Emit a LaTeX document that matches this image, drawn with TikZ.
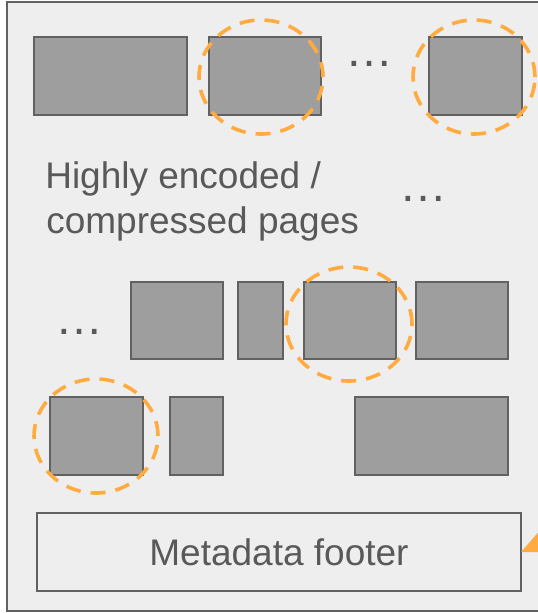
\documentclass[tikz,border=0pt]{standalone}
\usepackage{fontspec}
\setmainfont{Liberation Sans}
\usetikzlibrary{shapes.geometric,arrows.meta}

\definecolor{panelbg}{HTML}{EEEEEE}
\definecolor{pagefill}{HTML}{9E9E9E}
\definecolor{edgegray}{HTML}{616161}
\definecolor{textgray}{HTML}{595959}
\definecolor{accent}{HTML}{FFAB40}

\tikzset{
  pagebox/.style={draw=edgegray, fill=pagefill, line width=2pt,
    inner sep=0pt, outer sep=0pt},
  ring/.style={draw=accent, ellipse, line width=3.6pt, inner sep=0pt, outer sep=0pt,
    dash pattern=on 15pt off 10pt},
  footerbox/.style={draw=edgegray, fill=panelbg, line width=2pt,
    inner sep=0pt, outer sep=0pt, text=textgray,
    font=\fontsize{37}{44}\selectfont},
  label/.style={inner sep=0pt, outer sep=0pt, text=textgray,
    font=\fontsize{37}{45}\selectfont},
  dots/.style={inner sep=0pt, outer sep=0pt, text=textgray,
    font=\fontsize{48}{48}\selectfont},
  pointer/.style={draw=accent, line width=3pt,
    -{Triangle[length=28pt,width=25pt]}, color=accent}
}

\begin{document}
\begin{tikzpicture}[x=1pt,y=-1pt]
  \useasboundingbox (0,0) rectangle (538,613);
  \clip (0,0) rectangle (538,613);
  \fill[white] (0,0) rectangle (538,613);

  % file panel (its right side runs past the edge)
  \draw[draw=edgegray, fill=panelbg, line width=2pt] (7,2) rectangle (570,611);

  % first row of pages
  \node[pagebox, minimum width=153pt, minimum height=78pt] (pA) at (110.5,76) {};
  \node[pagebox, minimum width=112pt, minimum height=78pt] (pB) at (265,76) {};
  \node[pagebox, minimum width=93pt,  minimum height=78pt] (pC) at (475.5,76) {};
  \node[dots, anchor=base] (dotsA) at (369.7,66.3) {…};

  % description
  \node[label, anchor=base west] (txt1) at (45.3,188.3) {Highly encoded /};
  \node[label, anchor=base west] (txt2) at (46.3,233.3) {compressed pages};
  \node[dots, anchor=base] (dotsB) at (423,201.3) {…};

  % second row of pages
  \node[dots, anchor=base] (dotsC) at (79,334.3) {…};
  \node[pagebox, minimum width=92pt, minimum height=77pt] (pD) at (177,320.5) {};
  \node[pagebox, minimum width=45pt, minimum height=77pt] (pE) at (260.5,320.5) {};
  \node[pagebox, minimum width=92pt, minimum height=77pt] (pF) at (350,320.5) {};
  \node[pagebox, minimum width=92pt, minimum height=77pt] (pG) at (462,320.5) {};

  % third row of pages
  \node[pagebox, minimum width=93pt,  minimum height=78pt] (pH) at (96.5,436) {};
  \node[pagebox, minimum width=53pt,  minimum height=78pt] (pI) at (196.5,436) {};
  \node[pagebox, minimum width=153pt, minimum height=78pt] (pJ) at (431.5,436) {};

  % highlighted pages
  \node[ring, minimum width=124pt, minimum height=114pt] (rB) at (261,77) {};
  \node[ring, minimum width=122pt, minimum height=114pt] (rC) at (474,77) {};
  \node[ring, minimum width=126pt, minimum height=114pt] (rF) at (349,324) {};
  \node[ring, minimum width=124pt, minimum height=114pt] (rH) at (96,436) {};

  % footer
  \node[footerbox, minimum width=484pt, minimum height=78pt] (footer) at (279,552) {Metadata footer};

  % pointer into the footer from outside
  \coordinate (src) at (613,511);
  \draw[pointer] (src) -- (footer.east);
\end{tikzpicture}
\end{document}
